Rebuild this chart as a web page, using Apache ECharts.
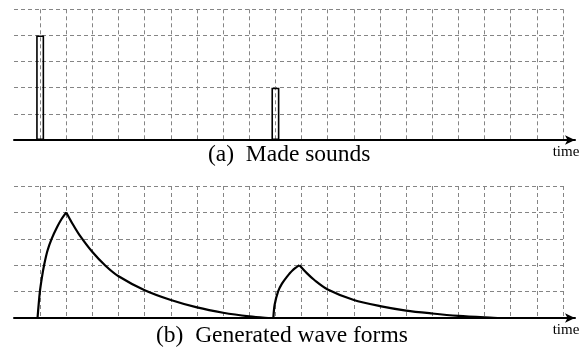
<!DOCTYPE html>
<html>
<head>
<meta charset="utf-8">
<script src="https://cdn.jsdelivr.net/npm/echarts@6/dist/echarts.min.js"></script>
<style>
html,body{margin:0;padding:0;background:#fff;}
#c{width:586px;height:353px;}
</style>
</head>
<body>
<div id="c"></div>
<script>
// ---- data ----
const captions = ['(a)  Made sounds', '(b)  Generated wave forms'];
const axisName = 'time';
const barTimes = [1, 10];
const barLevels = [4, 2];
const wave1Rise = [[0.9,0],[0.99,1],[1.07,1.55],[1.15,2],[1.28,2.55],[1.44,3],[1.65,3.45],[1.82,3.75],[2,4]];
const wave1Decay = [[2,4],[2.25,3.55],[2.5,3.15],[3,2.5],[3.5,1.98],[4,1.58],[5,1.05],[6,0.68],[7,0.4],[8,0.2],[9,0.06],[9.6,0.01],[9.92,0]];
const wave2Rise = [[9.92,0],[9.97,0.5],[10.1,1],[10.25,1.3],[10.43,1.55],[10.65,1.8],[10.92,2]];
const wave2Decay = [[10.92,2],[11.2,1.7],[11.5,1.43],[12,1.08],[13,0.68],[14,0.45],[15,0.28],[16,0.17],[17,0.08],[18,0.02],[18.5,0]];
const xMin = 0, xMax = 21, yMin = 0, yMax = 5;

// ---- chart ----
const gridColors = ['rgba(0,0,0,0)'].concat(new Array(21).fill('#858585'));
const dash = {type:[4,3], width:1};
function dataXAxis(g){
  return {type:'value', gridIndex:g, min:xMin, max:xMax, interval:1,
    axisLine:{show:false}, axisTick:{show:false}, axisLabel:{show:false},
    splitLine:{show:true, lineStyle:Object.assign({color:gridColors}, dash)}};
}
function dataYAxis(g){
  return {type:'value', gridIndex:g, min:yMin, max:yMax, interval:1,
    axisLine:{show:false}, axisTick:{show:false}, axisLabel:{show:false},
    splitLine:{show:true, lineStyle:Object.assign({color:'#858585'}, dash)}};
}
function arrowXAxis(g){
  return {type:'value', gridIndex:g, min:0, max:1,
    axisLine:{show:true, onZero:false, symbol:['none','arrow'], symbolSize:[7,10],
      lineStyle:{color:'#000', width:2}},
    axisTick:{show:false}, axisLabel:{show:false}, splitLine:{show:false},
    name:axisName, nameLocation:'end', nameGap:-9,
    nameTextStyle:{fontFamily:'Liberation Serif', fontSize:15, color:'#000',
      align:'center', verticalAlign:'top', padding:[5,0,0,0]}};
}
function arrowYAxis(g){
  return {type:'value', gridIndex:g, min:0, max:1, show:false};
}
const lineStyle = {color:'#000', width:2.2};
function waveSeries(data){
  return {type:'line', xAxisIndex:2, yAxisIndex:2, data:data, smooth:0.3,
    showSymbol:false, symbol:'none', sampling:null, lineStyle:lineStyle, z:5};
}

const chart = echarts.init(document.getElementById('c'), null, {renderer:'canvas'});
chart.setOption({
  animation:false,
  backgroundColor:'#fff',
  title:[
    {text:captions[0], left:208, top:143, padding:0,
      textStyle:{fontFamily:'Liberation Serif', fontSize:23.5, fontWeight:'normal', color:'#000'}},
    {text:captions[1], left:156, top:324, padding:0,
      textStyle:{fontFamily:'Liberation Serif', fontSize:23.5, fontWeight:'normal', color:'#000'}}
  ],
  grid:[
    {left:14, top:9.3, width:549, height:130.7},
    {left:14, top:9.3, width:561, height:130.7},
    {left:14, top:186, width:549, height:132},
    {left:14, top:186, width:561, height:132}
  ],
  xAxis:[dataXAxis(0), arrowXAxis(1), dataXAxis(2), arrowXAxis(3)],
  yAxis:[dataYAxis(0), arrowYAxis(1), dataYAxis(2), arrowYAxis(3)],
  series:[
    {type:'bar', xAxisIndex:0, yAxisIndex:0, barWidth:8, barMaxWidth:8,
      data:barTimes.map((t,i)=>[t, barLevels[i]]),
      itemStyle:{color:'rgba(255,255,255,0)', borderColor:'#000', borderWidth:1.6}, z:5},
    waveSeries(wave1Rise), waveSeries(wave1Decay),
    waveSeries(wave2Rise), waveSeries(wave2Decay)
  ]
});
</script>
</body>
</html>
